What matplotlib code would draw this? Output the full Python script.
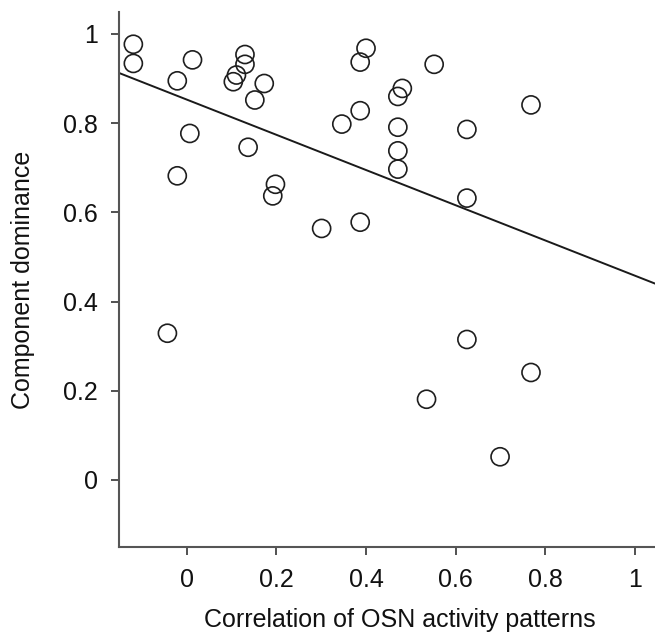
import matplotlib
matplotlib.use("Agg")
import matplotlib.pyplot as plt
import numpy as np

plt.rcParams['font.family'] = ['Liberation Sans', 'DejaVu Sans']

# Data
corr_osn = [-0.119, -0.119, 0.013, -0.021, 0.130, 0.130, 0.111, 0.104, 0.173, 0.152,
            0.346, 0.007, 0.137, -0.021, 0.198, 0.192, 0.301,
            0.400, 0.387, 0.552, 0.481, 0.471, 0.387, 0.768, 0.471, 0.625,
            0.471, 0.471, 0.625, 0.387,
            -0.043, 0.625, 0.768, 0.535, 0.699]
dominance = [0.977, 0.934, 0.942, 0.895, 0.954, 0.932, 0.908, 0.893, 0.889, 0.852,
             0.798, 0.777, 0.746, 0.682, 0.663, 0.637, 0.564,
             0.968, 0.937, 0.932, 0.878, 0.860, 0.828, 0.841, 0.791, 0.786,
             0.738, 0.697, 0.632, 0.578,
             0.329, 0.315, 0.241, 0.181, 0.052]
fit_slope = -0.395
fit_intercept = 0.853

x_ticks = [0, 0.2, 0.4, 0.6, 0.8, 1]
x_ticklabels = ['0', '0.2', '0.4', '0.6', '0.8', '1']
y_ticks = [0, 0.2, 0.4, 0.6, 0.8, 1]
y_ticklabels = ['0', '0.2', '0.4', '0.6', '0.8', '1']

fig = plt.figure(figsize=(6.55, 6.35), dpi=100)
ax = fig.add_axes([119/655, 87.7/635, 536/655, 535.6/635])

xlim = (-0.151, 1.0446)
ylim = (-0.151, 1.05)

ax.scatter(corr_osn, dominance, s=13**2, facecolors='none', edgecolors='#1e1e1e',
           linewidths=1.2, zorder=3, clip_on=False)

xl = np.array(xlim)
ax.plot(xl, fit_intercept + fit_slope * xl, color='#1a1a1a', lw=1.4, zorder=2)

ax.set_xlim(*xlim)
ax.set_ylim(*ylim)

for s in ['top', 'right']:
    ax.spines[s].set_visible(False)
for s in ['left', 'bottom']:
    ax.spines[s].set_color('#555555')
    ax.spines[s].set_linewidth(1.5)

ax.set_xticks(x_ticks)
ax.set_xticklabels(x_ticklabels)
ax.set_yticks(y_ticks)
ax.set_yticklabels(y_ticklabels)
ax.tick_params(axis='both', direction='out', length=6, width=1.2, color='#333333',
               labelsize=18, pad=9, labelcolor='#111111')

ax.set_xlabel('Correlation of OSN activity patterns', fontsize=18, color='#111111')
ax.xaxis.set_label_coords(0.524, -0.136)
ax.xaxis.label.set_va('center')
ax.set_ylabel('Component dominance', fontsize=18, color='#111111')
ax.yaxis.set_label_coords(-0.179, 0.5)
ax.yaxis.label.set_va('center')

fig.savefig('out.png', dpi=100)
